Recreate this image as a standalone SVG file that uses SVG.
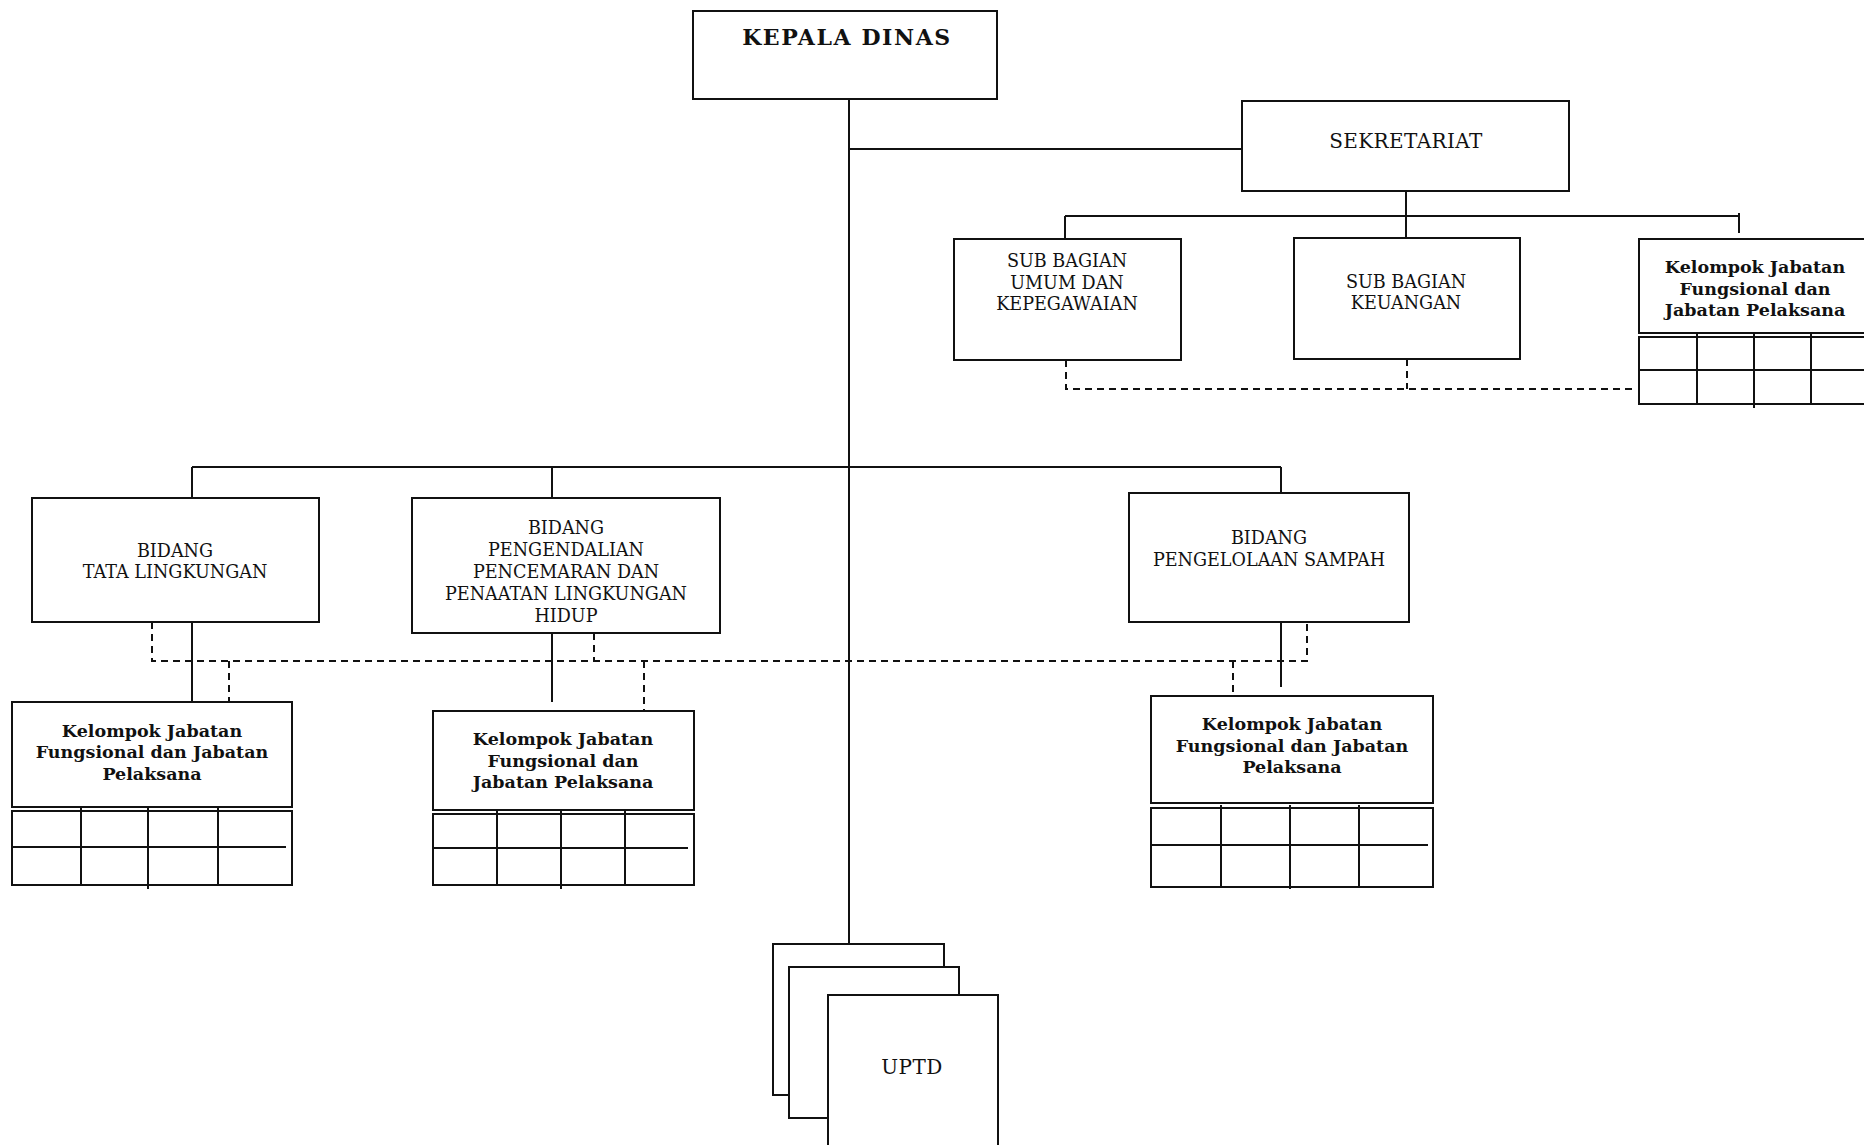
<svg xmlns="http://www.w3.org/2000/svg" width="1864" height="1145" viewBox="0 0 1864 1145">
<style>
.box{fill:#fff;stroke:#111;stroke-width:2}
.ln{fill:none;stroke:#111;stroke-width:2}
.dash{fill:none;stroke:#111;stroke-width:2;stroke-dasharray:7 5}
.t{font-family:"DejaVu Serif","Liberation Serif",serif;font-size:17.6px;fill:#111;text-anchor:middle}
.l{font-family:"DejaVu Serif","Liberation Serif",serif;font-size:20px;letter-spacing:0.4px;fill:#111;text-anchor:middle}
.b{font-family:"DejaVu Serif","Liberation Serif",serif;font-size:17.5px;font-weight:bold;fill:#111;text-anchor:middle}
.h{font-family:"DejaVu Serif","Liberation Serif",serif;font-size:22px;letter-spacing:1.6px;font-weight:bold;fill:#111;text-anchor:middle}
</style>
<rect width="1864" height="1145" fill="#fff"/>
<g id="connectors">
<path class="ln" d="M849 99V944"/>
<path class="ln" d="M849 149H1242"/>
<path class="ln" d="M1406 191V216M1065 216H1740M1065 216V239M1406 216V238M1739 213V233"/>
<path class="dash" d="M1066 360V389H1636M1407 359V389"/>
<path class="ln" d="M192 467H1281M192 467V498M552 467V498M1281 467V493"/>
<path class="ln" d="M192 622V702M552 633V702M1281 622V687"/>
<path class="dash" d="M152 622V661H1307V622M229 661V702M594 633V661M644 661V711M1233 661V696"/>
</g>
<g id="kepala-dinas">
<rect class="box" x="693" y="11" width="304" height="88"/>
<text class="h" x="847" y="45">KEPALA DINAS</text>
</g>
<g id="sekretariat">
<rect class="box" x="1242" y="101" width="327" height="90"/>
<text class="l" x="1406" y="148">SEKRETARIAT</text>
</g>
<g id="sub-umum">
<rect class="box" x="954" y="239" width="227" height="121"/>
<text class="t" x="1067" y="267">SUB BAGIAN</text>
<text class="t" x="1067" y="289">UMUM DAN</text>
<text class="t" x="1067" y="310">KEPEGAWAIAN</text>
</g>
<g id="sub-keuangan">
<rect class="box" x="1294" y="238" width="226" height="121"/>
<text class="t" x="1406" y="288">SUB BAGIAN</text>
<text class="t" x="1406" y="309">KEUANGAN</text>
</g>
<g id="kelompok-sekretariat">
<rect class="box" x="1639" y="239" width="240" height="94"/>
<text class="b" x="1755" y="273">Kelompok Jabatan</text>
<text class="b" x="1755" y="295">Fungsional dan</text>
<text class="b" x="1755" y="316">Jabatan Pelaksana</text>
<rect class="box" x="1639" y="337" width="240" height="67"/>
<path class="ln" d="M1639 370H1864M1697 334V404M1754 334V408M1811 334V404"/>
</g>
<g id="bidang-tata">
<rect class="box" x="32" y="498" width="287" height="124"/>
<text class="t" x="175" y="557">BIDANG</text>
<text class="t" x="175" y="578">TATA LINGKUNGAN</text>
</g>
<g id="bidang-pengendalian">
<rect class="box" x="412" y="498" width="308" height="135"/>
<text class="t" x="566" y="534">BIDANG</text>
<text class="t" x="566" y="556">PENGENDALIAN</text>
<text class="t" x="566" y="578">PENCEMARAN DAN</text>
<text class="t" x="566" y="600">PENAATAN LINGKUNGAN</text>
<text class="t" x="566" y="622">HIDUP</text>
</g>
<g id="bidang-sampah">
<rect class="box" x="1129" y="493" width="280" height="129"/>
<text class="t" x="1269" y="544">BIDANG</text>
<text class="t" x="1269" y="566">PENGELOLAAN SAMPAH</text>
</g>
<g id="kelompok-tata">
<rect class="box" x="12" y="702" width="280" height="105"/>
<text class="b" x="152" y="737">Kelompok Jabatan</text>
<text class="b" x="152" y="758">Fungsional dan Jabatan</text>
<text class="b" x="152" y="780">Pelaksana</text>
<rect class="box" x="12" y="811" width="280" height="74"/>
<path class="ln" d="M12 847H286M81 808V885M148 808V889M218 808V885"/>
</g>
<g id="kelompok-pengendalian">
<rect class="box" x="433" y="711" width="261" height="99"/>
<text class="b" x="563" y="745">Kelompok Jabatan</text>
<text class="b" x="563" y="767">Fungsional dan</text>
<text class="b" x="563" y="788">Jabatan Pelaksana</text>
<rect class="box" x="433" y="814" width="261" height="71"/>
<path class="ln" d="M433 848H688M497 811V885M561 811V889M625 811V885"/>
</g>
<g id="kelompok-sampah">
<rect class="box" x="1151" y="696" width="282" height="107"/>
<text class="b" x="1292" y="730">Kelompok Jabatan</text>
<text class="b" x="1292" y="752">Fungsional dan Jabatan</text>
<text class="b" x="1292" y="773">Pelaksana</text>
<rect class="box" x="1151" y="808" width="282" height="79"/>
<path class="ln" d="M1151 845H1428M1221 805V887M1290 805V889M1359 805V887"/>
</g>
<g id="uptd">
<rect class="box" x="773" y="944" width="171" height="151"/>
<rect class="box" x="789" y="967" width="170" height="151"/>
<rect class="box" x="828" y="995" width="170" height="160"/>
<text class="l" x="912" y="1074">UPTD</text>
</g>
</svg>
